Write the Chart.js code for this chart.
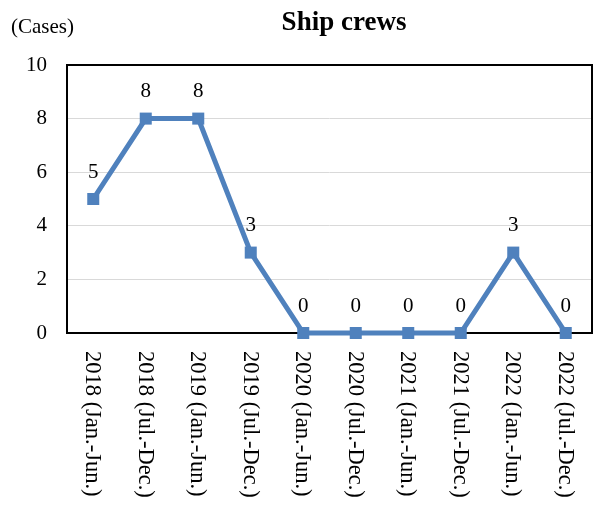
<!DOCTYPE html>
<html>
<head>
<meta charset="utf-8">
<script src="https://cdn.jsdelivr.net/npm/chart.js@4/dist/chart.umd.min.js"></script>
<style>
  body { margin: 0; background: #fff; }
  #wrap { width: 596px; height: 507px; }
</style>
</head>
<body>
<div id="wrap"><canvas id="crewChart" width="596" height="507"></canvas></div>
<script>
const periods = [
    '2018 (Jan.-Jun.)', '2018 (Jul.-Dec.)',
    '2019 (Jan.-Jun.)', '2019 (Jul.-Dec.)',
    '2020 (Jan.-Jun.)', '2020 (Jul.-Dec.)',
    '2021 (Jan.-Jun.)', '2021 (Jul.-Dec.)',
    '2022 (Jan.-Jun.)', '2022 (Jul.-Dec.)'
];
const cases = [5, 8, 8, 3, 0, 0, 0, 0, 3, 0];
const yTicks = [0, 2, 4, 6, 8, 10];

const serif = '"Liberation Serif", "Times New Roman", serif';

// title, unit label, plot frame, value labels and rotated period labels
const decorations = {
    id: 'decorations',
    beforeDatasetsDraw(chart) {
        const { ctx, chartArea: a } = chart;
        ctx.save();
        ctx.strokeStyle = '#000';
        ctx.lineWidth = 2;
        ctx.strokeRect(a.left, a.top, a.right - a.left, a.bottom - a.top);
        ctx.restore();
    },
    afterDatasetsDraw(chart) {
        const { ctx } = chart;
        const xs = chart.scales.x;
        const meta = chart.getDatasetMeta(0);
        ctx.save();
        ctx.fillStyle = '#000';

        ctx.font = 'bold 27px ' + serif;
        ctx.textAlign = 'center';
        ctx.textBaseline = 'middle';
        ctx.fillText('Ship crews', 344, 23);

        ctx.font = '21px ' + serif;
        ctx.textAlign = 'left';
        ctx.fillText('(Cases)', 11, 27);

        ctx.textAlign = 'center';
        meta.data.forEach((pt, i) => {
            ctx.fillText(String(cases[i]), pt.x, pt.y - 27);
        });

        ctx.font = '22.5px ' + serif;
        ctx.textAlign = 'left';
        periods.forEach((label, i) => {
            const x = xs.getPixelForTick(i);
            ctx.save();
            ctx.translate(x - 1, 351);
            ctx.rotate(Math.PI / 2);
            ctx.fillText(label, 0, 0);
            ctx.restore();
        });
        ctx.restore();
    }
};

new Chart(document.getElementById('crewChart'), {
    type: 'line',
    data: {
        labels: periods,
        datasets: [{
            data: cases,
            borderColor: '#4f81bd',
            backgroundColor: '#4f81bd',
            borderWidth: 5,
            tension: 0,
            pointStyle: 'rect',
            pointRadius: 8.5,
            pointHoverRadius: 8.5,
            pointBorderWidth: 0,
            clip: false
        }]
    },
    options: {
        responsive: false,
        animation: false,
        events: [],
        layout: { autoPadding: false, padding: { top: 65, right: 4, left: 0, bottom: 0 } },
        plugins: {
            legend: { display: false },
            title: { display: false },
            tooltip: { enabled: false }
        },
        scales: {
            x: {
                offset: true,
                grid: { display: false },
                border: { display: false },
                ticks: { display: false },
                afterFit: (s) => { s.height = 174; }
            },
            y: {
                min: 0,
                max: 10,
                afterBuildTicks: (s) => { s.ticks = yTicks.map(v => ({ value: v })); },
                grid: { color: '#d9d9d9', lineWidth: 1, drawTicks: false },
                border: { display: false },
                ticks: {
                    color: '#000',
                    padding: 20,
                    font: { family: serif, size: 21 }
                },
                afterFit: (s) => { s.width = 67; }
            }
        }
    },
    plugins: [decorations]
});
</script>
</body>
</html>
